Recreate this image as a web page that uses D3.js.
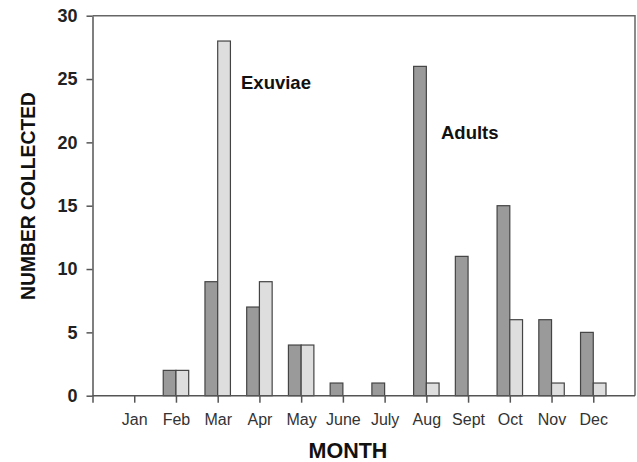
<!DOCTYPE html>
<html>
<head>
<meta charset="utf-8">
<script src="https://cdn.jsdelivr.net/npm/d3@7"></script>
<style>
  html, body { margin: 0; padding: 0; background: #fff; }
  svg { display: block; }
</style>
</head>
<body>
<svg id="chart" width="637" height="462"></svg>
<script>
const months = ["Jan","Feb","Mar","Apr","May","June","July","Aug","Sept","Oct","Nov","Dec"];
const adults = [0, 2, 9, 7, 4, 1, 1, 26, 11, 15, 6, 5];
const exuviae = [0, 2, 28, 9, 4, 0, 0, 1, 0, 6, 1, 1];
const yTicks = [0, 5, 10, 15, 20, 25, 30];

(function () {
const svg = d3.select("#chart");
const pLeft = 92.5, pRight = 635, pTop = 15.7, pBottom = 395.7;
const font = "Liberation Sans, Arial, sans-serif";

const x = d3.scaleLinear().domain([0, 13]).range([pLeft, pRight]);
const y = d3.scaleLinear().domain([0, 30]).range([pBottom, pTop]);
const barW = 0.305; // in month units

// frame (top and right)
svg.append("path")
  .attr("d", `M${pLeft},${pTop}H${pRight}V${pBottom}`)
  .attr("fill", "none").attr("stroke", "#666").attr("stroke-width", 1.5);

// bars
const g = svg.append("g");
g.selectAll("rect.adult").data(adults).join("rect")
  .attr("class", "adult")
  .attr("x", (d, i) => x(i + 1 - barW))
  .attr("width", (d, i) => x(i + 1) - x(i + 1 - barW))
  .attr("y", d => y(d))
  .attr("height", d => y(0) - y(d))
  .attr("fill", "#9a9a9a").attr("stroke", "#444").attr("stroke-width", 1.2)
  .style("display", d => d > 0 ? null : "none");
g.selectAll("rect.exu").data(exuviae).join("rect")
  .attr("class", "exu")
  .attr("x", (d, i) => x(i + 1))
  .attr("width", (d, i) => x(i + 1 + barW) - x(i + 1))
  .attr("y", d => y(d))
  .attr("height", d => y(0) - y(d))
  .attr("fill", "#dedede").attr("stroke", "#444").attr("stroke-width", 1.2)
  .style("display", d => d > 0 ? null : "none");

// x axis
const xAxis = d3.axisBottom(x)
  .tickValues(d3.range(0, 13))
  .tickSize(7).tickSizeOuter(0)
  .tickFormat(d => d === 0 ? "" : months[d - 1]);
const gx = svg.append("g").attr("transform", `translate(0,${pBottom})`).call(xAxis);
gx.select(".domain").attr("d", `M${pLeft},0H${pRight}`).attr("stroke", "#555").attr("stroke-width", 1.5);
gx.selectAll(".tick line").attr("stroke", "#555").attr("stroke-width", 1.5);
gx.selectAll(".tick text")
  .attr("y", 29).attr("dy", null)
  .style("font-family", font)
  .style("font-size", "16px")
  .attr("fill", "#333");

// y axis
const yAxis = d3.axisLeft(y).tickValues(yTicks).tickSize(6).tickSizeOuter(0).tickPadding(9);
const gy = svg.append("g").attr("transform", `translate(${pLeft},0)`).call(yAxis);
gy.select(".domain").attr("stroke", "#555").attr("stroke-width", 1.5);
gy.selectAll(".tick line").attr("stroke", "#555").attr("stroke-width", 1.5);
gy.selectAll(".tick text")
  .style("font-family", font)
  .style("font-size", "18px")
  .style("font-weight", "bold")
  .attr("fill", "#222");

// axis titles
svg.append("text")
  .attr("transform", `translate(35,196) rotate(-90)`)
  .attr("text-anchor", "middle")
  .attr("textLength", 208).attr("lengthAdjust", "spacingAndGlyphs")
  .style("font-family", font)
  .style("font-size", "20.5px").style("font-weight", "bold")
  .attr("fill", "#111")
  .text("NUMBER COLLECTED");
svg.append("text")
  .attr("x", 348).attr("y", 458)
  .attr("text-anchor", "middle")
  .style("font-family", font)
  .style("font-size", "21.5px").style("font-weight", "bold")
  .attr("fill", "#111")
  .text("MONTH");

// series labels
svg.append("text")
  .attr("x", 241).attr("y", 88.5)
  .style("font-family", font)
  .style("font-size", "18.5px").style("font-weight", "bold")
  .attr("fill", "#111")
  .text("Exuviae");
svg.append("text")
  .attr("x", 441).attr("y", 139)
  .style("font-family", font)
  .style("font-size", "18.5px").style("font-weight", "bold")
  .attr("fill", "#111")
  .text("Adults");
})();
</script>
</body>
</html>
